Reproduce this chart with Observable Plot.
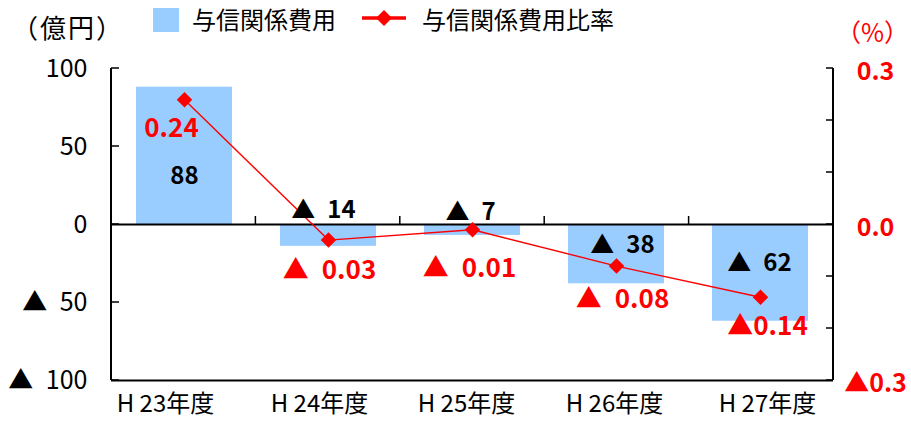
<!DOCTYPE html>
<html>
<head>
<meta charset="utf-8">
<script src="https://cdn.jsdelivr.net/npm/d3@7"></script>
<script src="https://cdn.jsdelivr.net/npm/@observablehq/plot@0.6"></script>
<style>
  body { margin: 0; background: #fff; font-family: "Noto Sans CJK JP", "Noto Sans", sans-serif; }
  #wrap { position: relative; width: 911px; height: 423px; }
  .abs { position: absolute; white-space: nowrap; line-height: 1; }
  .key { font-size: 24px; color: #000; }
</style>
</head>
<body>
<div id="wrap">
  <div class="abs key" style="left:12px; top:14px; font-size:26px; letter-spacing:2px;">（億円）</div>
  <div class="abs key" style="left:836px; top:19px; color:#f00; font-size:25px;">（%）</div>
  <svg class="abs" style="left:153px; top:8px;" width="26" height="24"><rect width="26" height="24" fill="#99ccff"/></svg>
  <div class="abs key" style="left:192px; top:7px;">与信関係費用</div>
  <svg class="abs" style="left:360px; top:7px;" width="48" height="22">
    <line x1="2" x2="46" y1="11" y2="11" stroke="#f00" stroke-width="3.5"/>
    <path d="M24,3 L32,11 L24,19 L16,11 Z" fill="#f00"/>
  </svg>
  <div class="abs key" style="left:422px; top:7px;">与信関係費用比率</div>
</div>
<script>
// 与信関係費用（億円）と与信関係費用比率（%）
const years  = ["H 23年度", "H 24年度", "H 25年度", "H 26年度", "H 27年度"];
const costs  = [88, -14, -7, -38, -62];
const ratios = [0.24, -0.03, -0.01, -0.08, -0.14];

const costTicks  = [100, 50, 0, -50, -100];
const ratioTicks = [0.3, 0.0, -0.3];
const ratioMinor = [0.3, 0.2, 0.1, 0.0, -0.1, -0.2, -0.3];

// label nudges in pixels (dx, dy) relative to each mark
const costNudge  = [[0, 89], [-5, -36], [-2, -23], [6, -38], [-1, -58]];
const ratioNudge = [[-13, 29], [1, 31], [-3, 39], [6, 34], [7, 29]];
const yearNudge  = [-19, -9, -6, -2, 7];

// the ratio axis shares the cost axis: ±0.3% ↔ ±100億円
const k = 100 / 0.3;

const tri = (v, fmt, sep) => v < 0 ? "▲" + sep + fmt(-v) : fmt(v);
const fmt2 = d3.format(".2f");
const fmt1 = d3.format(".1f");

const rows = years.map((year, i) => ({year, cost: costs[i], ratio: ratios[i], r: ratios[i] * k}));

const red = "#ff0000";
const blue = "#99ccff";
const jp = "'Noto Sans CJK JP', sans-serif";

// frame sides, inward ticks, and category separators on the zero line
function frameLines(index, scales, values, dims) {
  const {width, marginLeft, marginRight} = dims;
  const x0 = marginLeft, x1 = width - marginRight;
  const g = d3.create("svg:g").attr("stroke", "#000").attr("stroke-width", 2).attr("fill", "none");
  const y = scales.y;
  g.append("line").attr("x1", x0).attr("x2", x0).attr("y1", y(100)).attr("y2", y(-100));
  g.append("line").attr("x1", x1).attr("x2", x1).attr("y1", y(100)).attr("y2", y(-100));
  for (const t of costTicks) {
    g.append("line").attr("x1", x0).attr("x2", x0 + 8).attr("y1", y(t)).attr("y2", y(t)).attr("stroke-width", 1.5);
  }
  for (const t of ratioMinor) {
    g.append("line").attr("x1", x1 - 7).attr("x2", x1).attr("y1", y(t * k)).attr("y2", y(t * k)).attr("stroke-width", 1.5);
  }
  const step = (x1 - x0) / years.length;
  for (let i = 1; i <= years.length; ++i) {
    const xb = x0 + i * step;
    g.append("line").attr("x1", xb).attr("x2", xb).attr("y1", y(0)).attr("y2", y(0) - 8).attr("stroke-width", 1.5);
  }
  return g.node();
}

const plot = Plot.plot({
  width: 911,
  height: 423,
  marginLeft: 111,
  marginRight: 78,
  marginTop: 68,
  marginBottom: 43,
  style: {fontFamily: jp, background: "transparent"},
  x: {domain: years, paddingInner: 0.33, paddingOuter: 0.165, axis: null},
  y: {domain: [-100, 100], axis: null},
  marks: [
    Plot.barY(rows, {x: "year", y: "cost", fill: blue}),
    Plot.ruleY([0], {stroke: "#000", strokeWidth: 2}),
    Plot.ruleY([-100], {stroke: "#000", strokeWidth: 2}),
    frameLines,
    // left axis labels (億円)
    Plot.axisY({anchor: "left", ticks: costTicks, tickSize: 0, tickPadding: 24,
      tickFormat: v => tri(v, String, "\u2002"), fontSize: 25, fill: "#000", fontFamily: jp}),
    // right axis labels (%)
    Plot.axisY({anchor: "right", ticks: ratioTicks.map(r => r * k), tickSize: 0, tickPadding: 42,
      textAnchor: "middle", tickFormat: v => tri(+(v / k).toFixed(1), fmt1, ""), fontSize: 25,
      fill: red, fontWeight: "bold", fontFamily: jp, dy: 3}),
    // category labels
    ...rows.map((d, i) => Plot.text([d], {x: "year", text: "year", frameAnchor: "bottom",
      dy: 31, dx: yearNudge[i], fontSize: 24, fill: "#000", fontFamily: jp})),
    // ratio line
    Plot.line(rows, {x: "year", y: "r", stroke: red, strokeWidth: 1.4}),
    Plot.dot(rows, {x: "year", y: "r", symbol: "diamond2", r: 7, fill: red, stroke: null}),
    // cost value labels
    ...rows.map((d, i) => Plot.text([d], {x: "year", y: "cost", text: d => tri(d.cost, String, "\u2002"),
      dx: costNudge[i][0], dy: costNudge[i][1], fontSize: 24, fill: "#000", fontFamily: jp,
      fontWeight: "bold", letterSpacing: "2px"})),
    // ratio value labels
    ...rows.map((d, i) => Plot.text([d], {x: "year", y: "r",
      text: d => tri(d.ratio, fmt2, i === rows.length - 1 ? "" : "\u2002"),
      dx: ratioNudge[i][0], dy: ratioNudge[i][1], fontSize: 26, fill: red, fontFamily: jp,
      fontWeight: "bold", letterSpacing: "1.5px"}))
  ]
});

plot.style.position = "absolute";
plot.style.left = "0";
plot.style.top = "0";
document.getElementById("wrap").prepend(plot);
</script>
</body>
</html>
